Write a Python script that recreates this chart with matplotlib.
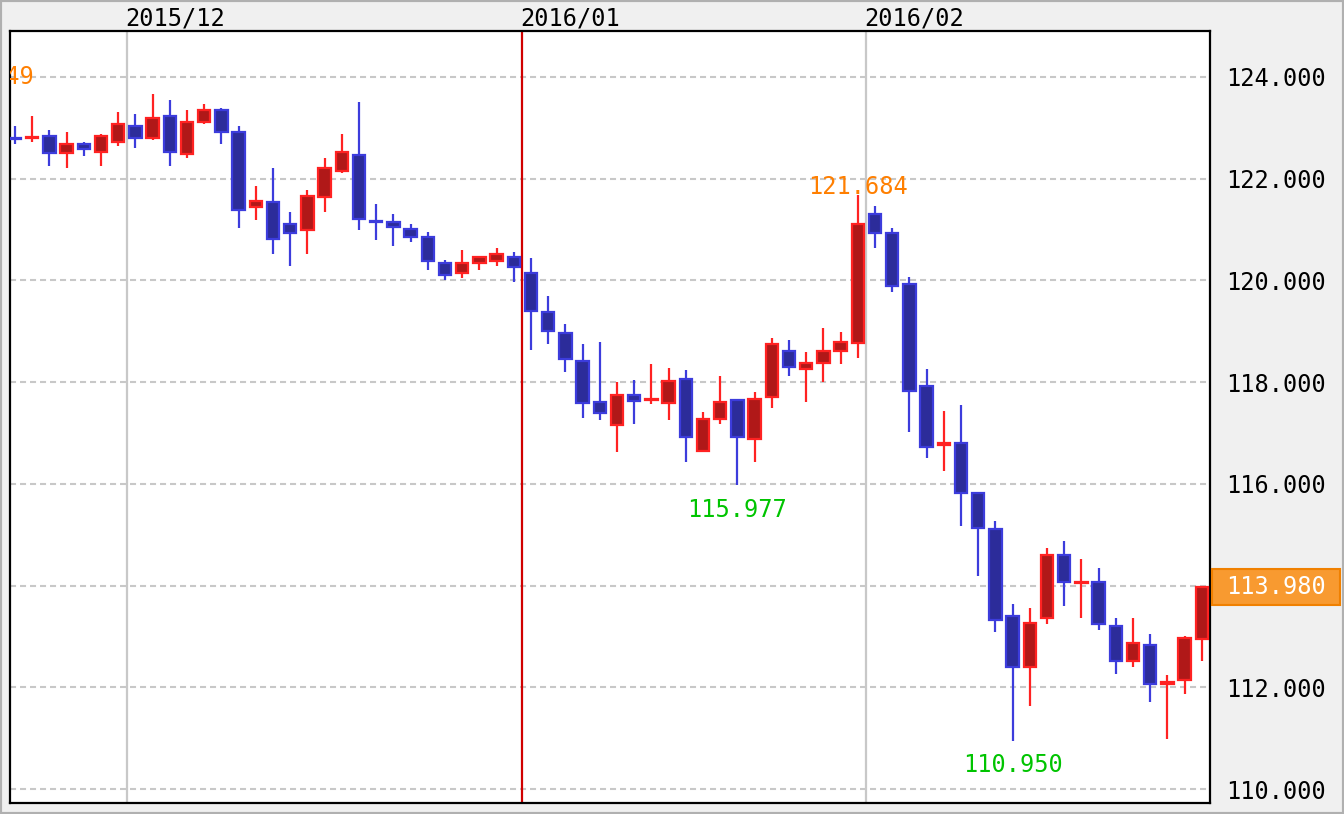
import numpy as np
import matplotlib
matplotlib.use("Agg")
import matplotlib.pyplot as plt
from matplotlib.patches import Rectangle
import matplotlib.transforms as mtransforms

# Daily candles (open, high, low, close), 2015/11 end .. 2016/02
opens = [122.81, 122.80, 122.84, 122.50, 122.68, 122.53, 122.73, 123.04, 122.81, 123.23,
         122.49, 123.12, 123.35, 122.92, 121.45, 121.54, 121.11, 120.99, 121.64, 122.15,
         122.47, 121.16, 121.14, 121.02, 120.86, 120.35, 120.14, 120.34, 120.38, 120.47,
         120.15, 119.37, 118.97, 118.42, 117.60, 117.15, 117.75, 117.64, 117.58, 118.07,
         116.64, 117.27, 117.64, 116.88, 117.70, 118.62, 118.25, 118.37, 118.61, 118.76,
         121.31, 120.94, 119.93, 117.92, 116.76, 116.80, 115.82, 115.12, 113.40, 112.39,
         113.37, 114.60, 114.05, 114.08, 113.20, 112.51, 112.84, 112.07, 112.15, 112.95]
highs = [123.04, 123.23, 122.96, 122.92, 122.72, 122.88, 123.31, 123.27, 123.67, 123.55,
         123.35, 123.47, 123.39, 123.04, 121.86, 122.21, 121.35, 121.78, 122.41, 122.88,
         123.51, 121.50, 121.31, 121.11, 120.95, 120.40, 120.60, 120.47, 120.64, 120.56,
         120.44, 119.69, 119.14, 118.75, 118.79, 118.00, 118.04, 118.36, 118.28, 118.24,
         117.41, 118.12, 117.66, 117.81, 118.87, 118.83, 118.59, 119.06, 118.99, 121.684,
         121.46, 121.03, 120.06, 118.25, 117.43, 117.55, 115.83, 115.27, 113.63, 113.55,
         114.73, 114.88, 114.53, 114.34, 113.37, 113.37, 113.05, 112.25, 113.01, 113.98]
lows = [122.68, 122.73, 122.25, 122.22, 122.45, 122.25, 122.64, 122.60, 122.76, 122.25,
        122.41, 123.08, 122.68, 121.03, 121.19, 120.52, 120.28, 120.52, 121.35, 122.12,
        120.99, 120.80, 120.68, 120.76, 120.21, 120.01, 120.05, 120.21, 120.28, 119.97,
        118.63, 118.75, 118.20, 117.30, 117.26, 116.63, 117.18, 117.57, 117.26, 116.43,
        116.64, 117.18, 115.977, 116.43, 117.49, 118.12, 117.61, 118.00, 118.36, 118.48,
        120.64, 119.77, 117.01, 116.50, 116.25, 115.17, 114.19, 113.09, 110.950, 111.64,
        113.24, 113.59, 113.36, 113.12, 112.27, 112.39, 111.71, 110.99, 111.87, 112.51]
closes = [122.79, 122.82, 122.50, 122.68, 122.58, 122.84, 123.08, 122.81, 123.19, 122.53,
          123.12, 123.35, 122.92, 121.39, 121.56, 120.81, 120.93, 121.66, 122.21, 122.53,
          121.20, 121.14, 121.05, 120.85, 120.38, 120.10, 120.35, 120.47, 120.51, 120.26,
          119.40, 119.01, 118.45, 117.58, 117.39, 117.75, 117.62, 117.66, 118.03, 116.92,
          117.28, 117.60, 116.92, 117.67, 118.74, 118.29, 118.38, 118.62, 118.78, 121.10,
          120.93, 119.90, 117.83, 116.73, 116.80, 115.83, 115.13, 113.33, 112.39, 113.27,
          114.60, 114.07, 114.08, 113.24, 112.51, 112.88, 112.07, 112.11, 112.96, 113.98]

# month boundaries (between candle i-1 and i) and their labels
month_starts = [7, 30, 50]
month_labels = ["2015/12", "2016/01", "2016/02"]

# marked extremes: (candle index, value, kind)
marks = [(49, 121.684, "high"), (42, 115.977, "low"), (58, 110.950, "low")]
off_left_high = "123.649"

o = np.array(opens)
h = np.array(highs)
l = np.array(lows)
c = np.array(closes)
x = np.arange(len(o))
up = c >= o

BLUE_E, BLUE_F = "#3c3cdc", "#2c2c9a"
RED_E, RED_F = "#ff2222", "#b01818"
ORANGE = "#ff7f00"
GREEN = "#00c400"
FONT = "DejaVu Sans Mono"

fig = plt.figure(figsize=(13.44, 8.14), dpi=100, facecolor="#f0f0f0")
ax = fig.add_axes([10 / 1344, 11 / 814, 1200 / 1344, 772 / 814])
ax.set_facecolor("white")

# grid
for yv in np.arange(110, 125, 2):
    ax.axhline(yv, color="#c8c8c8", lw=1.5, dashes=(2.9, 1.9), zorder=0)
for ms, lab in zip(month_starts, month_labels):
    col = "#d00000" if lab.endswith("/01") else "#c8c8c8"
    ax.axvline(ms - 0.5, color=col, lw=1.6, zorder=0.5)

# wicks and bodies
ax.vlines(x, l, h, colors=np.where(up, RED_E, BLUE_E), lw=1.6, zorder=2)
bottoms = np.minimum(o, c)
heights = np.maximum(np.abs(c - o), 0.02)
ax.bar(x, heights, bottom=bottoms, width=0.72,
       color=np.where(up, RED_F, BLUE_F), edgecolor=np.where(up, RED_E, BLUE_E),
       linewidth=1.6, zorder=3)

# high / low labels
for i, v, kind in marks:
    if kind == "high":
        ax.annotate(f"{v:.3f}", (i, v), xytext=(0, -3), textcoords="offset points",
                    ha="center", va="bottom", color=ORANGE, fontsize=17, family=FONT)
    else:
        ax.annotate(f"{v:.3f}", (i, v), xytext=(0, -9), textcoords="offset points",
                    ha="center", va="top", color=GREEN, fontsize=17, family=FONT)
# period high, mostly outside the visible range
ax.text(1.07, 124.0, off_left_high, ha="right", va="center", color=ORANGE,
        fontsize=17, family=FONT, clip_on=True)

ax.set_xlim(-0.29, len(o) - 0.52)
ax.set_ylim(109.725, 124.904)

# right price axis
ax.yaxis.tick_right()
ax.set_yticks(np.arange(110, 125, 2))
ax.set_yticklabels([f"{v:.3f}" for v in np.arange(110, 125, 2)], family=FONT, fontsize=17)
ax.tick_params(axis="y", length=0, pad=11.5)
ax.set_xticks([])

# month labels on top
trans = ax.get_xaxis_transform()
for ms, lab in zip(month_starts, month_labels):
    ax.annotate(lab, (ms - 0.6, 1.0), xycoords=trans, xytext=(0, 0.5), textcoords="offset points",
                ha="left", va="bottom", fontsize=17, family=FONT, annotation_clip=False)

for s in ax.spines.values():
    s.set_color("black")
    s.set_linewidth(1.6)

# last price box
last = c[-1]
btrans = mtransforms.blended_transform_factory(ax.transAxes, ax.transData)
ppu = 772 / (124.904 - 109.725)
ax.add_patch(Rectangle((1.0017, last - 18 / ppu), 128 / 1200, 36 / ppu, transform=btrans,
                       facecolor="#f89a30", edgecolor="#f08000", lw=1.5, clip_on=False, zorder=5))
ax.text(1.0133, last, f"{last:.3f}", transform=btrans, ha="left", va="center",
        color="white", fontsize=17, family=FONT, zorder=6)

# outer frame
fig.patches.append(Rectangle((0, 0), 1, 1, transform=fig.transFigure, fill=False,
                             edgecolor="#b0b0b0", lw=3))

fig.savefig("out.png", dpi=100, facecolor=fig.get_facecolor())
